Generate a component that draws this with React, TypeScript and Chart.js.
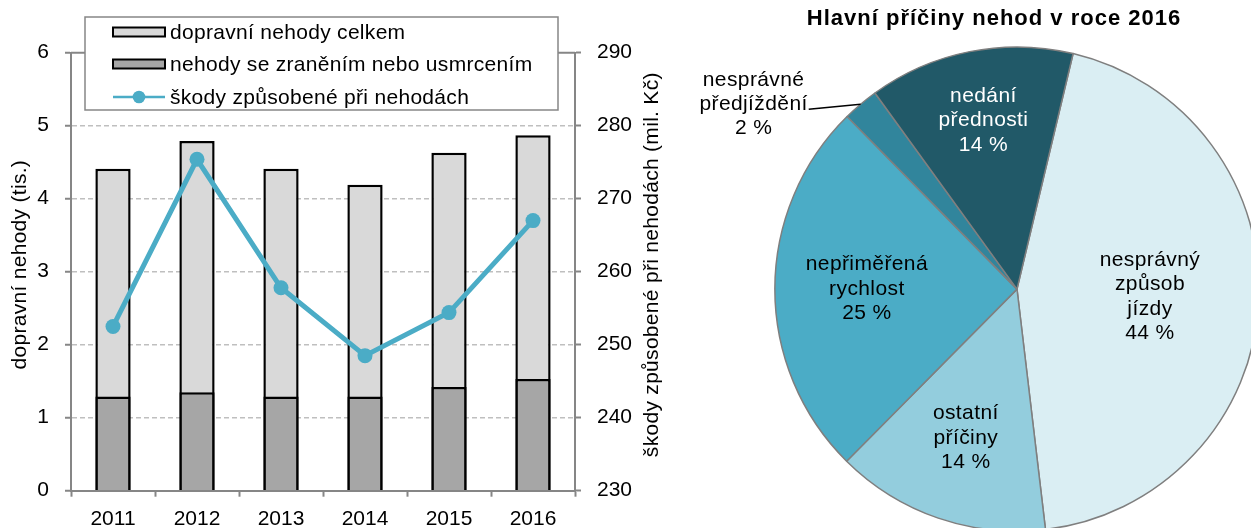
import React, { useEffect, useRef } from "react";
import { Chart, registerables } from "chart.js";

Chart.register(...registerables);

// ---------- data: left combo chart ----------
const years = ["2011", "2012", "2013", "2014", "2015", "2016"];
const totalAccidents = [4.41, 4.79, 4.41, 4.19, 4.63, 4.87];
const injuryAccidents = [1.29, 1.35, 1.29, 1.29, 1.42, 1.53];
const damages = [252.5, 275.4, 257.8, 248.5, 254.4, 267.0];
const seriesNames = [
  "dopravní nehody celkem",
  "nehody se zraněním nebo usmrcením",
  "škody způsobené při nehodách",
];
const leftTickValues = [0, 1, 2, 3, 4, 5, 6];
const rightTickValues = [230, 240, 250, 260, 270, 280, 290];
const leftAxisTitle = "dopravní nehody (tis.)";
const rightAxisTitle = "škody způsobené při nehodách (mil. Kč)";

// ---------- data: pie chart ----------
const pieTitle = "Hlavní příčiny nehod v roce 2016";
const causeLabels = [
  ["nesprávný", "způsob", "jízdy"],
  ["ostatní", "příčiny"],
  ["nepřiměřená", "rychlost"],
  ["nesprávné", "předjíždění"],
  ["nedání", "přednosti"],
];
const causeShares = [44.4, 14.3, 25.2, 2.4, 13.7];

// ---------- styles ----------
const FONT = "'Liberation Sans', Arial, sans-serif";
const AXIS_GRAY = "#868686";
const GRID_GRAY = "#BFBFBF";
const BAR_COLORS = ["#D9D9D9", "#A6A6A6"];
const LINE_COLOR = "#4BACC6";
const PIE_COLORS = ["#DAEEF3", "#93CDDD", "#4BACC6", "#31859C", "#215968"];
const PIE_TEXT = ["#000", "#000", "#000", "#000", "#fff"];
const PIE_LABEL_RADIUS = [0.55, 0.65, 0.62, -1, 0.71];

const LEFT_W = 680;
const H = 528;
const PIE_W = 674;
const PIE_H = 532;

const leftDecor = {
  id: "leftDecor",
  beforeDatasetsDraw(chart: any) {
    const { ctx, chartArea } = chart;
    ctx.save();
    ctx.strokeStyle = AXIS_GRAY;
    ctx.lineWidth = 2;
    ctx.beginPath();
    ctx.moveTo(chartArea.left, chartArea.top);
    ctx.lineTo(chartArea.right, chartArea.top);
    ctx.stroke();
    ctx.restore();
  },
  afterDraw(chart: any) {
    const { ctx, chartArea } = chart;
    const midY = (chartArea.top + chartArea.bottom) / 2 - 7;
    ctx.save();
    ctx.fillStyle = "#000";
    ctx.font = `21px ${FONT}`;
    ctx.textAlign = "center";
    ctx.textBaseline = "middle";
    (ctx as any).letterSpacing = "0.3px";
    // axis titles (both read bottom-to-top)
    ctx.save();
    ctx.translate(20, midY);
    ctx.rotate(-Math.PI / 2);
    ctx.fillText(leftAxisTitle, 0, 0);
    ctx.restore();
    ctx.save();
    ctx.translate(chartArea.right + 77, midY);
    ctx.rotate(-Math.PI / 2);
    ctx.fillText(rightAxisTitle, 0, 0);
    ctx.restore();

    // legend box
    const lx = 85, ly = 17, lw = 473, lh = 93;
    ctx.fillStyle = "#fff";
    ctx.fillRect(lx, ly, lw, lh);
    ctx.strokeStyle = AXIS_GRAY;
    ctx.lineWidth = 1.5;
    ctx.strokeRect(lx, ly, lw, lh);
    const rows = [32, 64, 97];
    const sx = 113, sw = 52, sh = 9;
    for (let i = 0; i < 2; i++) {
      ctx.fillStyle = BAR_COLORS[i];
      ctx.fillRect(sx, rows[i] - sh / 2, sw, sh);
      ctx.strokeStyle = "#000";
      ctx.lineWidth = 2;
      ctx.strokeRect(sx, rows[i] - sh / 2, sw, sh);
    }
    ctx.strokeStyle = LINE_COLOR;
    ctx.lineWidth = 2.5;
    ctx.beginPath();
    ctx.moveTo(sx, rows[2]);
    ctx.lineTo(sx + sw, rows[2]);
    ctx.stroke();
    ctx.fillStyle = LINE_COLOR;
    ctx.beginPath();
    ctx.arc(sx + sw / 2, rows[2], 6.3, 0, Math.PI * 2);
    ctx.fill();
    ctx.fillStyle = "#000";
    ctx.textAlign = "left";
    ctx.font = `21px ${FONT}`;
    seriesNames.forEach((n, i) => ctx.fillText(n, 170, rows[i] + 1));
    ctx.restore();
  },
};

const pieDecor = {
  id: "pieDecor",
  afterDatasetsDraw(chart: any) {
    const ctx = chart.ctx;
    const arcs = chart.getDatasetMeta(0).data;
    ctx.save();
    ctx.font = `21px ${FONT}`;
    ctx.textAlign = "center";
    ctx.textBaseline = "middle";
    (ctx as any).letterSpacing = "0.4px";
    const lineH = 24.3;
    arcs.forEach((arc: any, i: number) => {
      const p = arc.getProps(["x", "y", "startAngle", "endAngle", "outerRadius"], true);
      const mid = (p.startAngle + p.endAngle) / 2;
      const lines = [...causeLabels[i], `${Math.round(causeShares[i])} %`];
      let cx: number, cy: number;
      const f = PIE_LABEL_RADIUS[i];
      if (f > 0) {
        cx = p.x + Math.cos(mid) * p.outerRadius * f;
        cy = p.y + Math.sin(mid) * p.outerRadius * f;
      } else {
        const ex = p.x + Math.cos(mid) * p.outerRadius;
        const ey = p.y + Math.sin(mid) * p.outerRadius;
        cx = ex - 107;
        cy = ey;
        const w2 = ctx.measureText(lines[1]).width;
        ctx.strokeStyle = "#000";
        ctx.lineWidth = 1.5;
        ctx.beginPath();
        ctx.moveTo(cx + w2 / 2 + 1, ey + 5);
        ctx.lineTo(ex, ey);
        ctx.stroke();
      }
      ctx.fillStyle = PIE_TEXT[i];
      const top = cy - ((lines.length - 1) * lineH) / 2;
      lines.forEach((t, k) => ctx.fillText(t, cx, top + k * lineH));
    });
    ctx.restore();
  },
  afterDraw(chart: any) {
    const ctx = chart.ctx;
    const area = chart.chartArea;
    ctx.save();
    ctx.font = `bold 22px ${FONT}`;
    (ctx as any).letterSpacing = "1px";
    ctx.fillStyle = "#000";
    ctx.textAlign = "center";
    ctx.textBaseline = "middle";
    ctx.fillText(pieTitle, (area.left + area.right) / 2 - 23, 19);
    ctx.restore();
  },
};

export default function App() {
  const leftRef = useRef<HTMLCanvasElement>(null);
  const pieRef = useRef<HTMLCanvasElement>(null);

  useEffect(() => {
    Chart.defaults.font.family = FONT;
    Chart.defaults.font.size = 21;
    Chart.defaults.color = "#000";

    const tickFont = { family: FONT, size: 21 };
    const left = new Chart(leftRef.current as HTMLCanvasElement, {
      type: "bar",
      data: {
        labels: years,
        datasets: [
          {
            type: "bar",
            label: seriesNames[0],
            data: totalAccidents,
            backgroundColor: BAR_COLORS[0],
            borderColor: "#000",
            borderWidth: 2.5,
            grouped: false,
            order: 2,
            yAxisID: "y",
            categoryPercentage: 1,
            barPercentage: 0.42,
          } as any,
          {
            type: "bar",
            label: seriesNames[1],
            data: injuryAccidents,
            backgroundColor: BAR_COLORS[1],
            borderColor: "#000",
            borderWidth: 2.5,
            grouped: false,
            order: 1,
            yAxisID: "y",
            categoryPercentage: 1,
            barPercentage: 0.42,
          } as any,
          {
            type: "line",
            label: seriesNames[2],
            data: damages,
            borderColor: LINE_COLOR,
            backgroundColor: LINE_COLOR,
            pointBackgroundColor: LINE_COLOR,
            borderWidth: 5,
            pointRadius: 7.5,
            pointBorderWidth: 0,
            tension: 0,
            order: 0,
            yAxisID: "y1",
          } as any,
        ],
      },
      options: {
        animation: false,
        responsive: false,
        maintainAspectRatio: false,
        layout: { padding: { top: 52.7, left: 0, right: 0, bottom: 0 } },
        plugins: {
          legend: { display: false },
          tooltip: { enabled: false },
          title: { display: false },
        },
        scales: {
          x: {
            type: "category",
            offset: true,
            grid: {
              display: true,
              offset: true,
              drawOnChartArea: false,
              drawTicks: true,
              tickLength: 6,
              tickColor: AXIS_GRAY,
              tickWidth: 2,
            },
            border: { display: true, color: AXIS_GRAY, width: 2 },
            ticks: { padding: 10, color: "#000", font: tickFont, maxRotation: 0 },
            afterFit: (s: any) => {
              s.height = H - 490.7;
            },
          },
          y: {
            position: "left",
            min: leftTickValues[0],
            max: leftTickValues[leftTickValues.length - 1],
            ticks: { stepSize: 1, padding: 16, color: "#000", font: tickFont },
            grid: {
              color: (c: any) =>
                c.tick && (c.tick.value === leftTickValues[0] || c.tick.value === leftTickValues[leftTickValues.length - 1])
                  ? "rgba(0,0,0,0)"
                  : GRID_GRAY,
              lineWidth: 1.5,
              tickColor: AXIS_GRAY,
              tickLength: 6,
              tickWidth: 2,
              tickBorderDash: [],
            },
            border: { display: true, color: AXIS_GRAY, width: 2, dash: [5, 3] },
            afterFit: (s: any) => {
              s.width = 71;
            },
          },
          y1: {
            position: "right",
            min: rightTickValues[0],
            max: rightTickValues[rightTickValues.length - 1],
            ticks: { stepSize: 10, padding: 16, color: "#000", font: tickFont },
            grid: {
              drawOnChartArea: false,
              tickColor: AXIS_GRAY,
              tickLength: 6,
              tickWidth: 2,
            },
            border: { display: true, color: AXIS_GRAY, width: 2 },
            afterFit: (s: any) => {
              s.width = LEFT_W - 575;
            },
          },
        },
      } as any,
      plugins: [leftDecor],
    });

    const pie = new Chart(pieRef.current as HTMLCanvasElement, {
      type: "pie",
      data: {
        labels: causeLabels.map((l) => l.join(" ")),
        datasets: [
          {
            data: causeShares,
            backgroundColor: PIE_COLORS,
            borderColor: "#7F7F7F",
            borderWidth: 1.5,
            hoverOffset: 0,
          } as any,
        ],
      },
      options: {
        animation: false,
        responsive: false,
        maintainAspectRatio: false,
        rotation: 13.4,
        layout: { padding: { top: 46.2, left: 0, right: 0, bottom: 0 } },
        plugins: {
          legend: { display: false },
          tooltip: { enabled: false },
          title: { display: false },
        },
      } as any,
      plugins: [pieDecor],
    });

    return () => {
      left.destroy();
      pie.destroy();
    };
  }, []);

  return (
    <div
      style={{
        position: "fixed",
        left: 0,
        top: 0,
        width: 1251,
        height: H,
        overflow: "hidden",
        background: "#fff",
      }}
    >
      <canvas
        ref={leftRef}
        width={LEFT_W}
        height={H}
        style={{ position: "absolute", left: 0, top: 0, width: LEFT_W, height: H }}
      />
      <canvas
        ref={pieRef}
        width={PIE_W}
        height={PIE_H}
        style={{ position: "absolute", left: 680, top: 0, width: PIE_W, height: PIE_H }}
      />
    </div>
  );
}
